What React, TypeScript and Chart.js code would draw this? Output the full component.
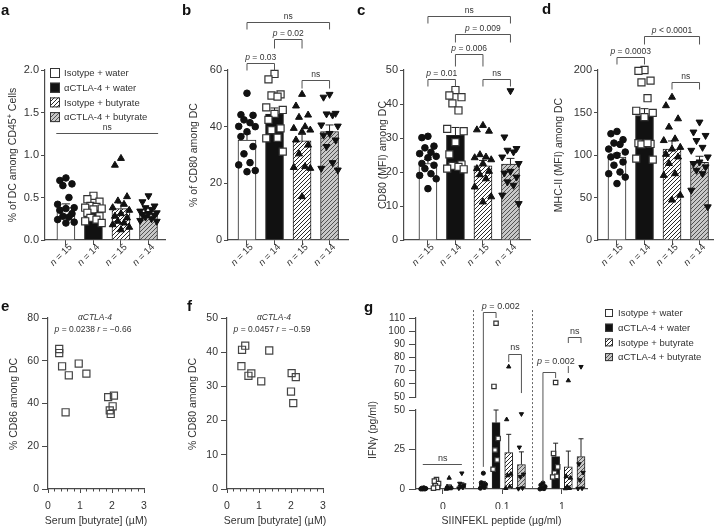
import React, { useEffect, useRef } from 'react';
import { Chart, registerables } from 'chart.js';

Chart.register(...registerables);

const CW = 720;
const CH = 526;
const FONT = "'Liberation Sans', Arial, Helvetica, sans-serif";
const TXT = '#333333';
const AXC = '#4a4a4a';
Chart.defaults.font.family = FONT;
Chart.defaults.color = TXT;

// ================= DATA =================
const groupNames = ['Isotype + water', 'αCTLA-4 + water', 'Isotype + butyrate', 'αCTLA-4 + butyrate'];
const groupN = ['15', '14', '15', '14'];

// panel a: % of DC among CD45+ cells
const aMean = [0.38, 0.36, 0.37, 0.31];
const aSem = [0.045, 0.03, 0.065, 0.025];
const aIsoWater = [0.73, 0.70, 0.66, 0.64, 0.50, 0.42, 0.38, 0.37, 0.35, 0.31, 0.28, 0.27, 0.24, 0.21, 0.20];
const aAntiWater = [0.52, 0.48, 0.45, 0.40, 0.39, 0.38, 0.37, 0.36, 0.32, 0.28, 0.26, 0.24, 0.22, 0.20];
const aIsoBut = [0.96, 0.88, 0.51, 0.46, 0.42, 0.38, 0.35, 0.31, 0.28, 0.26, 0.22, 0.20, 0.18, 0.15, 0.12];
const aAntiBut = [0.52, 0.45, 0.40, 0.38, 0.36, 0.34, 0.32, 0.31, 0.30, 0.29, 0.27, 0.25, 0.23, 0.22];

// panel b: % of CD80 among DC
const bMean = [35.3, 44.4, 35.0, 38.3];
const bSem = [2.2, 2.2, 2.3, 2.3];
const bIsoWater = [51.8, 44.2, 44.0, 42.4, 41.4, 40.1, 40.0, 38.2, 36.5, 33.0, 30.4, 27.3, 26.5, 24.5, 24.1];
const bAntiWater = [58.6, 56.7, 51.4, 51.0, 50.6, 46.8, 45.9, 44.5, 42.4, 39.4, 38.8, 36.1, 35.9, 31.2];
const bIsoBut = [51.4, 47.3, 44.1, 43.3, 40.0, 39.4, 38.8, 38.2, 35.3, 33.5, 30.4, 25.9, 25.6, 25.3, 15.3];
const bAntiBut = [51.4, 50.4, 44.7, 44.5, 44.1, 40.6, 40.2, 37.6, 37.0, 35.3, 33.0, 27.3, 25.3, 24.7];

// panel c: CD80 (MFI) among DC
const cMean = [22.5, 30.8, 21.8, 22.3];
const cSem = [1.2, 2.3, 1.6, 1.7];
const cIsoWater = [30.5, 30.1, 27.6, 27.1, 25.8, 25.4, 24.6, 24.2, 22.5, 22.0, 21.0, 19.5, 19.0, 18.0, 15.1];
const cAntiWater = [44.1, 42.5, 42.0, 40.2, 38.1, 32.7, 32.0, 28.8, 25.2, 22.2, 21.8, 21.5, 21.0, 20.8];
const cIsoBut = [33.7, 32.4, 32.0, 25.1, 24.4, 24.2, 23.6, 22.5, 21.0, 20.2, 19.2, 18.0, 15.6, 12.7, 11.2];
const cAntiBut = [43.9, 30.3, 26.9, 26.4, 25.9, 24.4, 22.5, 20.2, 19.7, 18.5, 17.1, 16.1, 13.2, 10.7];

// panel d: MHC-II (MFI) among DC
const dMean = [97.5, 146.5, 107.0, 91.5];
const dSem = [4.5, 8.0, 9.5, 7.0];
const dIsoWater = [127.7, 125, 118, 114, 112.5, 107, 103.5, 99.6, 97.7, 91.8, 88, 80, 78, 74, 66.4];
const dAntiWater = [200, 199, 187.5, 185.5, 166.8, 152, 149.6, 144.5, 114, 113, 112.5, 114, 95.7, 94.5];
const dIsoBut = [168, 158, 142.6, 132.8, 119, 117, 109, 107, 100.8, 97.7, 90, 78, 76, 52.7, 47];
const dAntiBut = [138.7, 127, 123, 117, 109, 105.5, 97.7, 91.8, 90, 86, 82, 78, 58.6, 39];

// panel e / f: serum butyrate vs CD86 / CD80
const eButyrate = [0.35, 0.35, 0.44, 0.65, 0.55, 0.96, 1.2, 1.88, 2.06, 2.02, 1.93, 1.96];
const eCD86 = [65.5, 63.6, 57.4, 53.2, 35.9, 58.7, 54.0, 43.0, 43.7, 38.7, 36.8, 35.1];
const fButyrate = [0.47, 0.57, 0.45, 0.67, 0.76, 1.07, 1.32, 2.02, 2.15, 2.0, 2.07];
const fCD80 = [40.7, 41.9, 35.9, 33.1, 33.8, 31.5, 40.5, 33.9, 32.7, 28.5, 25.1];

// panel g: IFNγ by SIINFEKL dose
const gDose = ['0', '0.1', '1'];
const gMeanIsoWater = [0.3, 3.4, 0.6];
const gMeanAntiWater = [3.0, 42, 20.5];
const gMeanIsoBut = [1.5, 23, 14];
const gMeanAntiBut = [2.5, 15.5, 20.5];
const gSemIsoWater = [0.2, 1.4, 0.6];
const gSemAntiWater = [0.9, 8.0, 8.5];
const gSemIsoBut = [1.1, 11.6, 10];
const gSemAntiBut = [1.4, 8.0, 11.3];
const gPtsIsoWater = [[0.8, 0.5, 0.3, 0, 0, 0], [10, 4, 3, 2, 1, 0.5], [3.8, 2.5, 1.5, 0.5, 0.2, 0]];
const gPtsAntiWater = [[6, 5, 3.5, 2, 1, 0.5], [106, 58, 32, 24.7, 18.4, 12.5], [61, 22.5, 14, 10, 8, 7.6]];
const gPtsIsoBut = [[7, 1.5, 1, 0.5, 0.3, 0], [73, 44, 9.5, 8.5, 1.5, 0.5], [62.5, 8, 7, 1.5, 0.5, 0.3]];
const gPtsAntiBut = [[10, 3.5, 2.5, 1.5, 1, 0.5], [47.5, 26.4, 9.3, 7.8, 0.6, 0.2], [73, 15.8, 10.4, 5.7, 0.5, 0.3]];

// significance annotations (bar index, y value)
const aBrackets = [{ i: -0.35, j: 3.35, v: 1.26, label: 'ns', flat: true }];
const bBrackets = [
  { i: 0, j: 3, v: 77, label: 'ns' },
  { i: 1, j: 2, v: 71, label: 'p = 0.02', legL: 9, legR: 9 },
  { i: 0, j: 1, v: 62.5, label: 'p = 0.03' },
  { i: 2, j: 3, v: 56.5, label: 'ns', legL: 8, legR: 8 },
];
const cBrackets = [
  { i: 0, j: 3, v: 66, label: 'ns' },
  { i: 1, j: 3, v: 60.5, label: 'p = 0.009', legL: 8, legR: 8 },
  { i: 1, j: 2, v: 54.7, label: 'p = 0.006', legL: 12, legR: 12 },
  { i: 0, j: 1, v: 47.4, label: 'p = 0.01' },
  { i: 2, j: 3, v: 47.4, label: 'ns' },
];
const dBrackets = [
  { i: 1, j: 3, v: 240, label: 'p < 0.0001', legL: 8, legR: 8 },
  { i: 0, j: 1, v: 215, label: 'p = 0.0003' },
  { i: 2, j: 3, v: 186, label: 'ns' },
];
const gBrackets = [
  { d: 1, k1: 0, k2: 1, v: 114.5, v1: 14, v2: 110, label: 'p = 0.002', lv: 116.5, align: 'left', ldx: -0.025 },
  { d: 1, k1: 2, k2: 3, v: 82.6, v1: 76.6, v2: 53, label: 'ns', lv: 85.7, align: 'center', ldx: 0 },
  { d: 2, k1: 0, k2: 1, v: 69, v1: 4.4, v2: 64.4, label: 'p = 0.002', lv: 75, align: 'left', ldx: -0.1 },
  { d: 2, k1: 2, k2: 3, v: 95.6, v1: 91, v2: 91, label: 'ns', lv: 97.8, align: 'center', ldx: 0, seg: [73.5, 68.2] },
];
const gNs0 = { from: -0.336, to: 0.32, v: 15.8, lv: 17.7 };

// ================= HELPERS =================
type Seg = { t: string; it?: boolean; sup?: boolean; bold?: boolean };

function segFont(s: Seg, size: number) {
  const sz = s.sup ? size * 0.7 : size;
  return `${s.it ? 'italic ' : ''}${s.bold ? 'bold ' : ''}${sz}px ${FONT}`;
}

function drawRich(ctx: any, segs: Seg[], x: number, y: number, size: number, align = 'center', color = TXT) {
  ctx.save();
  ctx.textBaseline = 'alphabetic';
  ctx.textAlign = 'left';
  ctx.fillStyle = color;
  let w = 0;
  const ws = segs.map((s) => {
    ctx.font = segFont(s, size);
    const m = ctx.measureText(s.t).width;
    w += m;
    return m;
  });
  let cx = align === 'center' ? x - w / 2 : align === 'right' ? x - w : x;
  segs.forEach((s, i) => {
    ctx.font = segFont(s, size);
    ctx.fillText(s.t, cx, s.sup ? y - size * 0.38 : y);
    cx += ws[i];
  });
  ctx.restore();
}

function drawRot(ctx: any, segs: Seg[], cx: number, cy: number, size: number) {
  ctx.save();
  ctx.translate(cx, cy);
  ctx.rotate(-Math.PI / 2);
  drawRich(ctx, segs, 0, size * 0.35, size, 'center');
  ctx.restore();
}

function pSegs(label: string): Seg[] {
  if (label.startsWith('p')) return [{ t: 'p', it: true }, { t: label.slice(1) }];
  return [{ t: label }];
}

function makePattern(bg: string, fg: string): any {
  const s = 4;
  const c = document.createElement('canvas');
  c.width = s;
  c.height = s;
  const x = c.getContext('2d')!;
  x.fillStyle = bg;
  x.fillRect(0, 0, s, s);
  x.strokeStyle = fg;
  x.lineWidth = 0.9;
  x.beginPath();
  x.moveTo(0, s);
  x.lineTo(s, 0);
  x.moveTo(-1, 1);
  x.lineTo(1, -1);
  x.moveTo(s - 1, s + 1);
  x.lineTo(s + 1, s - 1);
  x.stroke();
  return x.createPattern(c, 'repeat');
}

function drawLegend(ctx: any, x: number, y0: number, dy: number, box: number, fills: any[], size: number, tx: number) {
  groupNames.forEach((name, k) => {
    const y = y0 + k * dy;
    ctx.save();
    ctx.fillStyle = fills[k];
    ctx.fillRect(x, y, box, box);
    ctx.strokeStyle = '#333';
    ctx.lineWidth = 1;
    ctx.strokeRect(x + 0.5, y + 0.5, box - 1, box - 1);
    ctx.restore();
    drawRich(ctx, [{ t: name }], tx, y + box / 2 + size * 0.35, size, 'left');
  });
}

function drawErrors(chart: any, dsIndex: number, means: number[], sem: number[], cap: number) {
  const meta = chart.getDatasetMeta(dsIndex);
  const ys = chart.scales.y;
  const ctx = chart.ctx;
  ctx.save();
  ctx.strokeStyle = '#222';
  ctx.lineWidth = 1;
  meta.data.forEach((el: any, i: number) => {
    const x = el.x;
    const y0 = ys.getPixelForValue(means[i]);
    const y1 = ys.getPixelForValue(means[i] + sem[i]);
    ctx.beginPath();
    ctx.moveTo(x, y0);
    ctx.lineTo(x, y1);
    ctx.moveTo(x - cap / 2, y1);
    ctx.lineTo(x + cap / 2, y1);
    ctx.stroke();
  });
  ctx.restore();
}

const PT_STYLES = [
  { pointStyle: 'circle', r: 3.3, bg: '#111', bd: '#111', bw: 1, rot: 0 },
  { pointStyle: 'rect', r: 5, bg: '#fff', bd: '#333', bw: 1.2, rot: 0 },
  { pointStyle: 'triangle', r: 4, bg: '#111', bd: '#111', bw: 1, rot: 0 },
  { pointStyle: 'triangle', r: 4, bg: '#111', bd: '#111', bw: 1, rot: 180 },
];
const JIT = [0, -0.22, 0.22, -0.11, 0.11, -0.3, 0.3];
const GJIT = [0, -0.035, 0.035, -0.018, 0.018, -0.05];

function scatterDs(data: any[], st: any, k = 1) {
  return {
    type: 'scatter',
    data,
    pointStyle: st.pointStyle,
    pointRadius: st.r * k,
    pointHoverRadius: st.r * k,
    pointBackgroundColor: st.bg,
    pointBorderColor: st.bd,
    pointBorderWidth: st.bw,
    pointRotation: st.rot,
    order: 0,
    clip: false,
  };
}

function yScale(min: number, max: number, step: number, fmt: (v: number) => string, tl: number, pad: number, size: number, width: number) {
  return {
    type: 'linear',
    min,
    max,
    ticks: { stepSize: step, autoSkip: false, callback: (v: number) => fmt(v), font: { family: FONT, size }, color: TXT, padding: pad },
    grid: { display: true, drawOnChartArea: false, drawTicks: true, tickLength: tl, color: AXC, lineWidth: 1 },
    border: { display: true, color: AXC, width: 1.2 },
    afterFit: (s: any) => {
      s.width = width;
    },
  };
}

function baseOptions(padding: any, scales: any) {
  return {
    responsive: false,
    animation: false,
    devicePixelRatio: 1,
    events: [],
    layout: { padding },
    plugins: { legend: { display: false }, tooltip: { enabled: false }, title: { display: false } },
    scales,
  };
}

// ================= PANELS a-d =================
function makeBarPanel(canvas: any, P: any, fills: any[]) {
  const A = P.area;
  const groups = P.pts.map((vals: number[], k: number) =>
    scatterDs(vals.map((v, i) => ({ x: k + JIT[i % JIT.length], y: v })), PT_STYLES[k])
  );
  const plugin = {
    id: 'panel' + P.letter,
    afterDatasetDraw(chart: any, args: any) {
      if (args.index === 0) drawErrors(chart, 0, P.means, P.sem, 8);
    },
    afterDraw(chart: any) {
      const ctx = chart.ctx;
      const xs = chart.scales.x;
      const ys = chart.scales.y;
      drawRich(ctx, [{ t: P.letter, bold: true }], P.letterPos[0], P.letterPos[1], 15, 'left', '#111');
      drawRot(ctx, P.title, P.titleX, 155, 10.5);
      groupN.forEach((n, i) => {
        const px = xs.getPixelForValue(i);
        ctx.save();
        ctx.translate(px + 4, 245);
        ctx.rotate(-Math.PI / 4);
        drawRich(ctx, [{ t: 'n', it: true }, { t: ' = ' + n }], 0, 3.5, 9.5, 'right');
        ctx.restore();
      });
      ctx.save();
      ctx.strokeStyle = '#555';
      ctx.lineWidth = 1;
      P.brackets.forEach((b: any) => {
        const x1 = xs.getPixelForValue(b.i);
        const x2 = xs.getPixelForValue(b.j);
        const y = Math.round(ys.getPixelForValue(b.v)) + 0.5;
        ctx.beginPath();
        if (b.flat) {
          ctx.moveTo(x1, y);
          ctx.lineTo(x2, y);
        } else {
          ctx.moveTo(x1, y + (b.legL ?? 7));
          ctx.lineTo(x1, y);
          ctx.lineTo(x2, y);
          ctx.lineTo(x2, y + (b.legR ?? 7));
        }
        ctx.stroke();
        drawRich(ctx, pSegs(b.label), (x1 + x2) / 2, y - 4, 8.5, 'center');
      });
      ctx.restore();
      if (P.legend) drawLegend(ctx, 50, 68, 14.7, 10, fills, 9.5, 64);
    },
  };
  const padding = { left: A.left - 40, right: CW - A.right, top: A.top, bottom: CH - A.bottom - 10 };
  return new Chart(canvas, {
    type: 'scatter',
    data: {
      datasets: [
        {
          type: 'bar',
          data: P.means.map((m: number, i: number) => ({ x: i, y: m })),
          backgroundColor: fills,
          borderColor: '#222',
          borderWidth: 1,
          barThickness: 18,
          grouped: false,
          order: 1,
        } as any,
        ...groups,
      ],
    },
    options: baseOptions(padding, {
      x: {
        type: 'linear',
        min: P.xMin,
        max: P.xMax,
        offset: false,
        afterBuildTicks: (s: any) => {
          s.ticks = [0, 1, 2, 3].map((v) => ({ value: v }));
        },
        ticks: { display: false },
        grid: { display: true, offset: false, drawOnChartArea: false, drawTicks: true, tickLength: 5, color: AXC },
        border: { display: true, color: AXC, width: 1.2 },
        afterFit: (s: any) => {
          s.height = 10;
        },
      },
      y: yScale(0, P.yMax, P.yStep, P.fmt, 4, 2, 11, 40),
    }) as any,
    plugins: [plugin],
  });
}

// ================= PANELS e-f =================
function makeXYPanel(canvas: any, P: any) {
  const A = P.area;
  const plugin = {
    id: 'xy' + P.letter,
    afterDraw(chart: any) {
      const ctx = chart.ctx;
      const xs = chart.scales.x;
      const cx = (A.left + A.right) / 2;
      drawRich(ctx, [{ t: P.letter, bold: true }], P.letterPos[0], P.letterPos[1], 15, 'left', '#111');
      drawRot(ctx, [{ t: P.title }], P.titleX, 404, 10.5);
      drawRich(ctx, [{ t: 'Serum [butyrate] (µM)' }], cx, 524, 10.5, 'center');
      drawRich(ctx, [{ t: 'αCTLA-4', it: true }], cx - 1, 320, 8.5, 'center');
      drawRich(ctx, [{ t: 'p', it: true }, { t: ' = ' + P.p + ' ' }, { t: 'r', it: true }, { t: ' = ' + P.r }], cx - 3, 332, 8.5, 'center');
      ctx.save();
      ctx.strokeStyle = AXC;
      ctx.lineWidth = 1;
      ctx.beginPath();
      for (let i = 1; i < 15; i++) {
        if (i % 5 === 0) continue;
        const x = Math.round(xs.getPixelForValue(i * 0.2)) + 0.5;
        ctx.moveTo(x, A.bottom);
        ctx.lineTo(x, A.bottom + 2.5);
      }
      ctx.stroke();
      ctx.restore();
    },
  };
  const padding = { left: A.left - 40, right: CW - A.right, top: A.top, bottom: CH - A.bottom - 20 };
  return new Chart(canvas, {
    type: 'scatter',
    data: {
      datasets: [
        {
          ...scatterDs(P.xs.map((x: number, i: number) => ({ x, y: P.ys[i] })), PT_STYLES[1]),
          pointBorderColor: '#444',
          pointBackgroundColor: 'rgba(255,255,255,0)',
          pointBorderWidth: 1.2,
        } as any,
      ],
    },
    options: baseOptions(padding, {
      x: {
        type: 'linear',
        min: 0,
        max: 3,
        afterBuildTicks: (s: any) => {
          s.ticks = [0, 1, 2, 3].map((v) => ({ value: v }));
        },
        ticks: { font: { family: FONT, size: 10.5 }, color: TXT, padding: 7, maxRotation: 0, autoSkip: false },
        grid: { display: true, drawOnChartArea: false, drawTicks: true, tickLength: 4, color: AXC },
        border: { display: true, color: AXC, width: 1.2 },
        afterFit: (s: any) => {
          s.height = 20;
        },
      },
      y: yScale(0, P.yMax, P.yStep, (v) => String(v), 6, 3, 10.5, 40),
    }) as any,
    plugins: [plugin],
  });
}

// ================= PANEL g =================
const gMeans = [gMeanIsoWater, gMeanAntiWater, gMeanIsoBut, gMeanAntiBut];
const gSems = [gSemIsoWater, gSemAntiWater, gSemIsoBut, gSemAntiBut];
const gPts = [gPtsIsoWater, gPtsAntiWater, gPtsIsoBut, gPtsAntiBut];
const GSP = 0.213;
const bx = (d: number, k: number) => d + (k - 1.5) * GSP;
const G_XMIN = -0.45;
const G_XMAX = 2.42;
const gLowArea = { left: 416, right: 587, top: 410, bottom: 489 };
const gUpArea = { left: 416, right: 587, top: 318, bottom: 397 };

function gPtDs(k: number, keep: (v: number) => boolean) {
  const data: any[] = [];
  gPts[k].forEach((vals, d) =>
    vals.forEach((v, i) => {
      if (keep(v)) data.push({ x: bx(d, k) + GJIT[i % GJIT.length], y: v });
    })
  );
  return scatterDs(data, PT_STYLES[k], 0.62);
}

function makeGUpper(canvas: any) {
  const A = gUpArea;
  const padding = { left: A.left - 40, right: CW - A.right, top: A.top, bottom: CH - A.bottom };
  return new Chart(canvas, {
    type: 'scatter',
    data: { datasets: [0, 1, 2, 3].map((k) => gPtDs(k, (v) => v > 50)) as any },
    options: baseOptions(padding, {
      x: { type: 'linear', min: G_XMIN, max: G_XMAX, display: false },
      y: yScale(50, 110, 10, (v) => String(v), 7, 4, 10, 40),
    }) as any,
  });
}

function makeGLower(canvas: any, upper: any, fills: any[]) {
  const A = gLowArea;
  const plugin = {
    id: 'glower',
    afterDatasetDraw(chart: any, args: any) {
      if (args.index < 4) drawErrors(chart, args.index, gMeans[args.index], gSems[args.index], 5);
    },
    afterDraw(chart: any) {
      const ctx = chart.ctx;
      const xs = chart.scales.x;
      const lowY = chart.scales.y;
      const upY = upper.scales.y;
      const yv = (v: number) => (v <= 50 ? lowY.getPixelForValue(v) : upY.getPixelForValue(v));
      drawRich(ctx, [{ t: 'g', bold: true }], 364, 312, 15, 'left', '#111');
      drawRot(ctx, [{ t: 'IFNγ (pg/ml)' }], 372, 430, 10.5);
      drawRich(ctx, [{ t: 'SIINFEKL peptide (µg/ml)' }], (A.left + A.right) / 2, 524, 10.5, 'center');
      drawLegend(ctx, 605, 309, 14.7, 8, fills, 9.5, 618);
      // dotted separators
      ctx.save();
      ctx.strokeStyle = '#666';
      ctx.lineWidth = 1;
      ctx.setLineDash([2, 2]);
      [0.5, 1.5].forEach((g) => {
        const x = Math.round(xs.getPixelForValue(g)) + 0.5;
        ctx.beginPath();
        ctx.moveTo(x, yv(116));
        ctx.lineTo(x, yv(0));
        ctx.stroke();
      });
      ctx.restore();
      // brackets
      ctx.save();
      ctx.strokeStyle = '#555';
      ctx.lineWidth = 1;
      gBrackets.forEach((b: any) => {
        const x1 = xs.getPixelForValue(bx(b.d, b.k1));
        const x2 = xs.getPixelForValue(bx(b.d, b.k2));
        const y = Math.round(yv(b.v)) + 0.5;
        ctx.beginPath();
        ctx.moveTo(x1, yv(b.v1));
        ctx.lineTo(x1, y);
        ctx.lineTo(x2, y);
        ctx.lineTo(x2, yv(b.v2));
        if (b.seg) {
          ctx.moveTo(x1, yv(b.seg[0]));
          ctx.lineTo(x1, yv(b.seg[1]));
        }
        ctx.stroke();
        const lx = b.align === 'left' ? xs.getPixelForValue(bx(b.d, b.k1) + b.ldx) : (x1 + x2) / 2;
        drawRich(ctx, pSegs(b.label), lx, yv(b.lv), 9, b.align);
      });
      const nsY = Math.round(yv(gNs0.v)) + 0.5;
      ctx.beginPath();
      ctx.moveTo(xs.getPixelForValue(gNs0.from), nsY);
      ctx.lineTo(xs.getPixelForValue(gNs0.to), nsY);
      ctx.stroke();
      drawRich(ctx, [{ t: 'ns' }], xs.getPixelForValue(0), yv(gNs0.lv), 9, 'center');
      ctx.restore();
    },
  };
  const padding = { left: A.left - 40, right: CW - A.right, top: A.top, bottom: CH - A.bottom - 20 };
  const bars = [0, 1, 2, 3].map((k) => ({
    type: 'bar',
    data: gMeans[k].map((m, d) => ({ x: bx(d, k), y: m })),
    backgroundColor: fills[k],
    borderColor: '#222',
    borderWidth: 1,
    barThickness: 8,
    grouped: false,
    order: 1,
  }));
  const pts = [0, 1, 2, 3].map((k) => gPtDs(k, (v) => v <= 50));
  return new Chart(canvas, {
    type: 'scatter',
    data: { datasets: [...bars, ...pts] as any },
    options: baseOptions(padding, {
      x: {
        type: 'linear',
        min: G_XMIN,
        max: G_XMAX,
        offset: false,
        afterBuildTicks: (s: any) => {
          s.ticks = [0, 1, 2].map((v) => ({ value: v }));
        },
        ticks: {
          font: { family: FONT, size: 10.5 },
          color: TXT,
          padding: 7,
          maxRotation: 0,
          autoSkip: false,
          callback: (_v: any, i: number) => gDose[i],
        },
        grid: { display: true, offset: false, drawOnChartArea: false, drawTicks: true, tickLength: 5, color: AXC },
        border: { display: true, color: AXC, width: 1.2 },
        afterFit: (s: any) => {
          s.height = 20;
        },
      },
      y: yScale(0, 50, 25, (v) => String(v), 7, 4, 10, 40),
    }) as any,
    plugins: [plugin],
  });
}

// ================= PANEL SPECS =================
const panelA = {
  letter: 'a', letterPos: [1, 15], area: { left: 45, right: 165, top: 70, bottom: 240 }, xMin: -0.76, xMax: 3.6,
  yMax: 2, yStep: 0.5, fmt: (v: number) => v.toFixed(1), means: aMean, sem: aSem,
  pts: [aIsoWater, aAntiWater, aIsoBut, aAntiBut], brackets: aBrackets, legend: true,
  title: [{ t: '% of DC among CD45' }, { t: '+', sup: true }, { t: ' Cells' }], titleX: 12,
};
const panelB = {
  letter: 'b', letterPos: [182, 15], area: { left: 228, right: 348, top: 70, bottom: 240 }, xMin: -0.69, xMax: 3.67,
  yMax: 60, yStep: 20, fmt: (v: number) => String(v), means: bMean, sem: bSem,
  pts: [bIsoWater, bAntiWater, bIsoBut, bAntiBut], brackets: bBrackets,
  title: [{ t: '% of CD80 among DC' }], titleX: 193,
};
const panelC = {
  letter: 'c', letterPos: [357, 15], area: { left: 404, right: 530, top: 70, bottom: 240 }, xMin: -0.87, xMax: 3.71,
  yMax: 50, yStep: 10, fmt: (v: number) => String(v), means: cMean, sem: cSem,
  pts: [cIsoWater, cAntiWater, cIsoBut, cAntiBut], brackets: cBrackets,
  title: [{ t: 'CD80 (MFI) among DC' }], titleX: 382,
};
const panelD = {
  letter: 'd', letterPos: [542, 14], area: { left: 598, right: 713, top: 70, bottom: 240 }, xMin: -0.69, xMax: 3.49,
  yMax: 200, yStep: 50, fmt: (v: number) => String(v), means: dMean, sem: dSem,
  pts: [dIsoWater, dAntiWater, dIsoBut, dAntiBut], brackets: dBrackets,
  title: [{ t: 'MHC-II (MFI) among DC' }], titleX: 558,
};
const panelE = {
  letter: 'e', letterPos: [1, 311], area: { left: 48, right: 144, top: 318, bottom: 489 }, yMax: 80, yStep: 20,
  xs: eButyrate, ys: eCD86, title: '% CD86 among DC', titleX: 13, p: '0.0238', r: '−0.66',
};
const panelF = {
  letter: 'f', letterPos: [187, 311], area: { left: 227, right: 323, top: 318, bottom: 489 }, yMax: 50, yStep: 10,
  xs: fButyrate, ys: fCD80, title: '% CD80 among DC', titleX: 192, p: '0.0457', r: '−0.59',
};

export default function App() {
  const refs = useRef<(HTMLCanvasElement | null)[]>([]);
  useEffect(() => {
    const cv = refs.current;
    const patW = makePattern('#ffffff', '#111111');
    const patG = makePattern('#c8c8c8', '#444444');
    const fills = ['#ffffff', '#111111', patW, patG];
    const charts: any[] = [];
    charts.push(makeBarPanel(cv[0], panelA, fills));
    charts.push(makeBarPanel(cv[1], panelB, fills));
    charts.push(makeBarPanel(cv[2], panelC, fills));
    charts.push(makeBarPanel(cv[3], panelD, fills));
    charts.push(makeXYPanel(cv[4], panelE));
    charts.push(makeXYPanel(cv[5], panelF));
    const up = makeGUpper(cv[6]);
    charts.push(up);
    charts.push(makeGLower(cv[7], up, fills));
    return () => charts.forEach((c) => c.destroy());
  }, []);
  return (
    <div style={{ position: 'fixed', left: 0, top: 0, width: CW, height: CH, background: '#fff', overflow: 'hidden' }}>
      {[0, 1, 2, 3, 4, 5, 6, 7].map((i) => (
        <canvas
          key={i}
          ref={(el) => {
            refs.current[i] = el;
          }}
          width={CW}
          height={CH}
          style={{ position: 'absolute', left: 0, top: 0, width: CW, height: CH }}
        />
      ))}
    </div>
  );
}
